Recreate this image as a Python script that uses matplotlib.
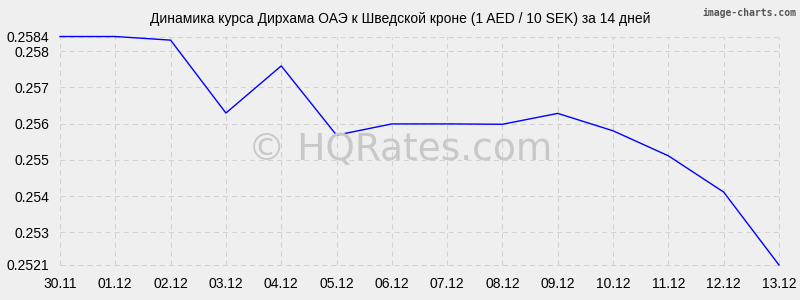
import numpy as np
import matplotlib.pyplot as plt

# Данные
dates = ['30.11', '01.12', '02.12', '03.12', '04.12', '05.12', '06.12',
         '07.12', '08.12', '09.12', '10.12', '11.12', '12.12', '13.12']
rates = [0.2584, 0.2584, 0.2583, 0.25629, 0.25759, 0.25568, 0.25599,
         0.25599, 0.25598, 0.25628, 0.2558, 0.25511, 0.25411, 0.2521]
y_ticks = [0.2521, 0.253, 0.254, 0.255, 0.256, 0.257, 0.258, 0.2584]
y_labels = ['0.2521', '0.253', '0.254', '0.255', '0.256', '0.257', '0.258', '0.2584']
title = 'Динамика курса Дирхама ОАЭ к Шведской кроне (1 AED / 10 SEK) за 14 дней'

plt.rcParams['font.family'] = ['Liberation Sans', 'DejaVu Sans']
plt.rcParams['lines.scale_dashes'] = False

fig = plt.figure(figsize=(8, 3), dpi=100, facecolor='#efefef')
ax = fig.add_axes([0.075, 0.1167, 0.89875, 0.7616])
ax.set_facecolor('#efefef')

x = np.arange(len(dates))
ax.plot(x, rates, color='#0000ff', linewidth=1, clip_on=False, zorder=3)

ax.set_xlim(0, len(dates) - 1)
ax.set_ylim(y_ticks[0], y_ticks[-1])
ax.set_xticks(x)
ax.set_xticklabels(dates)
ax.set_yticks(y_ticks)
ax.set_yticklabels(y_labels)
ax.tick_params(length=0, labelsize=10, colors='#000000', pad=8)
ax.tick_params(axis='x', pad=9)
ax.grid(True, color='#d2d2d2', linestyle=(0, (3.6, 2.9)), linewidth=0.75)
for gl in ax.get_xgridlines() + ax.get_ygridlines():
    gl.set_clip_on(False)
for s in ax.spines.values():
    s.set_visible(False)

fig.text(0.5, 0.935, title, ha='center', va='center', fontsize=10)
fig.text(0.5, 0.5, '© HQRates.com', ha='center', va='center',
         fontsize=27, color='#c8c8c8', family=['DejaVu Sans'])
fig.text(0.996, 0.975, 'image-charts.com', ha='right', va='top',
         fontsize=7, color='#555555', family=['DejaVu Sans Mono'], weight='bold')

plt.savefig('out.png', dpi=100, facecolor='#efefef')
